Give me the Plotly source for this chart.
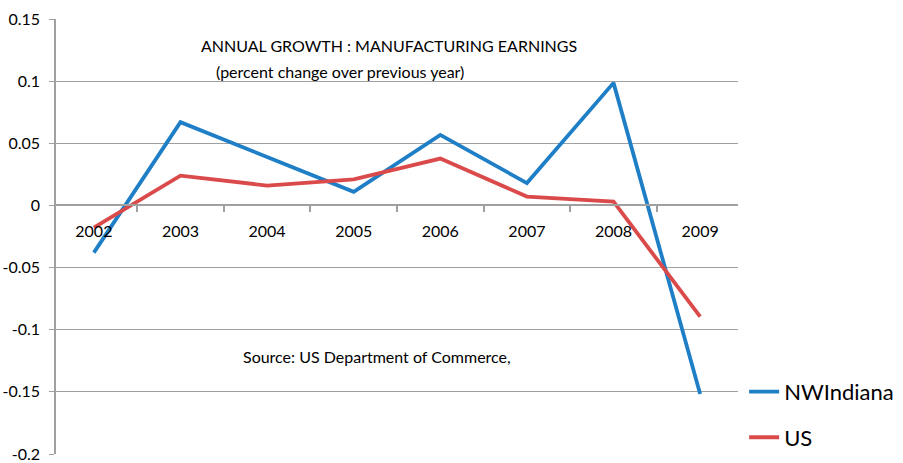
import plotly.graph_objects as go

years = ["2002", "2003", "2004", "2005", "2006", "2007", "2008", "2009"]
nw_indiana = [-0.038, 0.067, 0.039, 0.011, 0.0567, 0.018, 0.0986, -0.1517]
us = [-0.0178, 0.024, 0.016, 0.021, 0.0377, 0.0071, 0.003, -0.0895]
y_ticks = [-0.2, -0.15, -0.1, -0.05, 0, 0.05, 0.1, 0.15]
y_tick_labels = ["-0.2", "-0.15", "-0.1", "-0.05", "0", "0.05", "0.1", "0.15"]

FONT = "Lato"
Y_MIN, Y_MAX = -0.2, 0.15

fig = go.Figure()
fig.add_trace(go.Scatter(x=years, y=nw_indiana, mode="lines", name="NWIndiana",
                         line=dict(color="#1e7ec6", width=3.8), legendgroup="a"))
fig.add_trace(go.Scatter(x=years, y=us, mode="lines", name="US",
                         line=dict(color="#db4a4a", width=3.8), legendgroup="b"))

fig.update_layout(
    width=903, height=463, autosize=False,
    margin=dict(l=56, r=165, t=19, b=9, autoexpand=False),
    paper_bgcolor="white", plot_bgcolor="white",
    font=dict(family=FONT, size=16, color="black"),
    showlegend=True,
    legend=dict(x=1.009, xanchor="left", y=0.09, yanchor="middle",
                font=dict(size=22, family=FONT), traceorder="grouped",
                tracegroupgap=14, itemwidth=30, bgcolor="rgba(0,0,0,0)"),
    xaxis=dict(type="category", showticklabels=False, showgrid=False,
               showline=False, zeroline=False, ticks="", automargin=False),
    xaxis2=dict(type="category", overlaying="x", anchor="free",
                position=(0 - Y_MIN) / (Y_MAX - Y_MIN), side="bottom",
                matches="x", categoryorder="array", categoryarray=years,
                tickmode="array", tickvals=years, ticktext=years,
                showline=True, linecolor="#a0a0a0", linewidth=1.5,
                ticks="outside", ticklen=6, tickcolor="#a0a0a0", tickwidth=1.5,
                tickson="boundaries", showgrid=False, automargin=False,
                tickfont=dict(size=16, family=FONT), ticklabelstandoff=12),
    yaxis=dict(range=[Y_MIN, Y_MAX], tickmode="array", tickvals=y_ticks,
               ticktext=y_tick_labels, showgrid=True, gridcolor="#a0a0a0",
               gridwidth=1.2, zeroline=False, showline=True, linecolor="#a0a0a0",
               linewidth=1.5, ticks="outside", ticklen=5, tickcolor="#a0a0a0",
               automargin=False, ticklabelstandoff=6,
               tickfont=dict(size=16, family=FONT)),
)
# invisible trace to activate the category axis drawn at y = 0
fig.add_trace(go.Scatter(x=years, y=[None] * len(years), xaxis="x2",
                         showlegend=False, hoverinfo="skip"))

fig.add_annotation(text="ANNUAL GROWTH : MANUFACTURING EARNINGS", xref="paper", yref="paper",
                   x=0.488, y=0.938, xanchor="center", yanchor="middle",
                   showarrow=False, font=dict(size=16, family=FONT))
fig.add_annotation(text="(percent change over previous year)", xref="paper", yref="paper",
                   x=0.416, y=0.880, xanchor="center", yanchor="middle",
                   showarrow=False, font=dict(size=16, family=FONT))
fig.add_annotation(text="Source: US Department of Commerce,", xref="paper", yref="paper",
                   x=0.471, y=0.225, xanchor="center", yanchor="middle",
                   showarrow=False, font=dict(size=16, family=FONT))

fig.write_html("out.html", config={"displayModeBar": False},
               post_script="document.body.style.margin='0';document.body.style.overflow='hidden';")
